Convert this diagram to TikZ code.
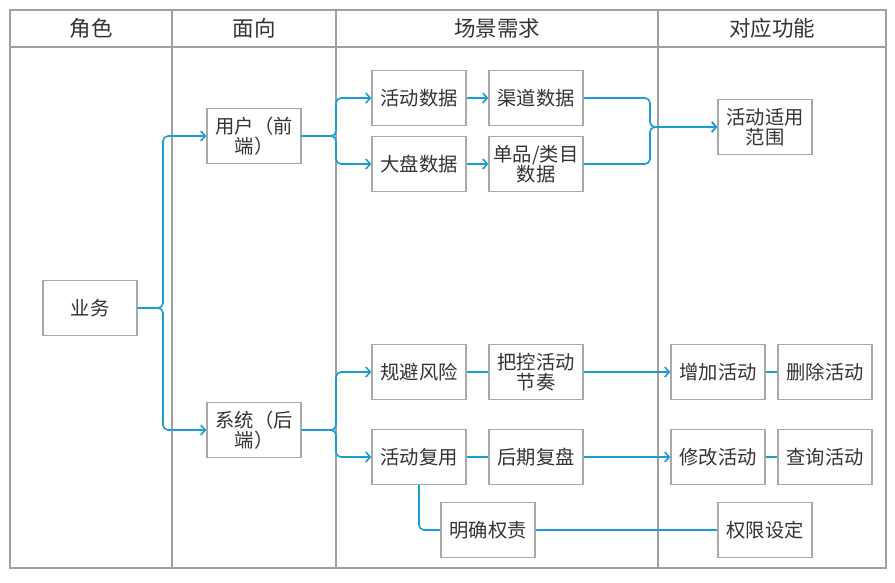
\documentclass[tikz,border=0pt]{standalone}
\usepackage{fontspec}
\setmainfont{Noto Sans CJK SC}
\usetikzlibrary{arrows.meta}
\definecolor{lk}{HTML}{1A9CD4}
\definecolor{bd}{HTML}{A8A8A8}
\definecolor{tl}{HTML}{A0A0A0}
\definecolor{tx}{HTML}{333333}
\begin{document}
\begin{tikzpicture}[x=1pt,y=-1pt,
  box/.style={draw=bd, line width=1.3pt, fill=white, minimum width=94pt, minimum height=55pt, align=center, font=\fontsize{19.3}{20.5}\selectfont, text=tx, inner sep=1pt},
  lnk/.style={draw=lk, line width=1.6pt, rounded corners=5pt},
  arr/.style={lnk, -{Straight Barb[length=4.5pt,width=10pt,line width=1.6pt]}},
  hd/.style={font=\fontsize{21.5}{23}\selectfont, text=tx}]
\useasboundingbox (0,0) rectangle (895,582);
% table
\draw[tl, line width=1.6pt] (10,10) rectangle (886,568);
\draw[tl, line width=1.6pt] (10,47) -- (886,47);
\draw[tl, line width=1.6pt] (172,10) -- (172,568);
\draw[tl, line width=1.6pt] (336,10) -- (336,568);
\draw[tl, line width=1.6pt] (658,10) -- (658,568);
\node[hd] (h1) at (91,28) {角色};
\node[hd] (h2) at (254,28) {面向};
\node[hd] (h3) at (497,28) {场景需求};
\node[hd] (h4) at (772,28) {对应功能};
% nodes
\node[box] (yw) at (90,308) {业务};
\node[box] (yh) at (254,136) {用户（前\\端）};
\node[box] (xt) at (254,430) {系统（后\\端）};
\node[box] (hd) at (419,98) {活动数据};
\node[box] (qd) at (536,98) {渠道数据};
\node[box] (dp) at (419,164) {大盘数据};
\node[box] (dx) at (536,164) {单品/类目\\数据};
\node[box] (sy) at (765,127) {活动适用\\范围};
\node[box] (gb) at (419,372) {规避风险};
\node[box] (bk) at (536,372) {把控活动\\节奏};
\node[box] (hf) at (419,457) {活动复用};
\node[box] (hq) at (536,457) {后期复盘};
\node[box] (mq) at (488,530) {明确权责};
\node[box] (zj) at (718,372) {增加活动};
\node[box] (sc) at (825,372) {删除活动};
\node[box] (xg) at (718,457) {修改活动};
\node[box] (cx) at (825,457) {查询活动};
\node[box] (qx) at (765,530) {权限设定};
% connectors
\draw[arr] (yw.east) -- (163,308) |- (yh.west);
\draw[arr] (yw.east) -- (163,308) |- (xt.west);
\draw[arr] (yh.east) -- (336,136) |- (hd.west);
\draw[arr] (yh.east) -- (336,136) |- (dp.west);
\draw[arr] (xt.east) -- (336,430) |- (gb.west);
\draw[arr] (xt.east) -- (336,430) |- (hf.west);
\draw[arr] (hd.east) -- (qd.west);
\draw[arr] (dp.east) -- (dx.west);
\draw[lnk] (gb.east) -- (bk.west);
\draw[lnk] (hf.east) -- (hq.west);
\draw[arr] (qd.east) -- (650,98) |- (sy.west);
\draw[arr] (dx.east) -- (650,164) |- (sy.west);
\draw[arr] (bk.east) -- (zj.west);
\draw[arr] (hq.east) -- (xg.west);
\draw[lnk] (zj.east) -- (sc.west);
\draw[lnk] (xg.east) -- (cx.west);
\draw[lnk] (hf.south) |- (mq.west);
\draw[lnk] (mq.east) -- (qx.west);
\end{tikzpicture}
\end{document}
